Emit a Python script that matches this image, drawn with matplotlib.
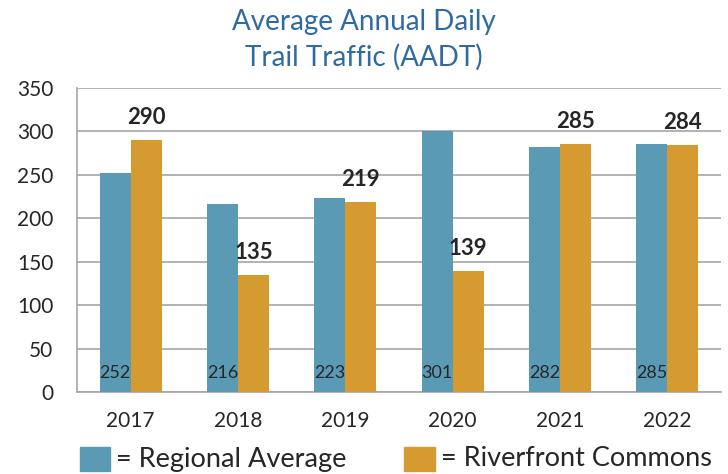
import numpy as np
import matplotlib.pyplot as plt
from matplotlib.patches import Rectangle

# Data
years = ['2017', '2018', '2019', '2020', '2021', '2022']
regional = [252, 216, 223, 301, 282, 285]
riverfront = [290, 135, 219, 139, 285, 284]

blue = '#5B9AB5'
orange = '#D69B30'
title_blue = '#2F6AA3'
text_dark = '#262626'
grid_gray = '#A6A6A6'

plt.rcParams['font.family'] = ['Lato', 'DejaVu Sans']

fig = plt.figure(figsize=(7.28, 4.74), dpi=100)
ax = fig.add_axes([77 / 728, 1 - 392 / 474, 644 / 728, 304 / 474])

x = np.arange(len(years))
w = 0.29
ax.bar(x - w / 2, regional, w, color=blue, zorder=3)
ax.bar(x + w / 2, riverfront, w, color=orange, zorder=3)

# labels: regional inside the bar near bottom, riverfront bold above bar
for xi, v in zip(x, regional):
    ax.text(xi - w / 2, 22, str(v), ha='center', va='center', fontsize=13,
            color=text_dark, zorder=4)
for xi, v in zip(x, riverfront):
    ax.text(xi + w / 2, v + 26, str(v), ha='center', va='center', fontsize=16,
            fontweight='bold', color=text_dark, zorder=4)

ax.set_ylim(0, 350)
ax.set_xlim(-0.5, 5.5)
ax.set_yticks(range(0, 351, 50))
ax.set_xticks(x)
ax.set_xticklabels(years)
ax.tick_params(axis='both', length=0, labelsize=15, colors=text_dark)
ax.tick_params(axis='y', pad=17)
ax.tick_params(axis='x', pad=14)
ax.grid(axis='y', color=grid_gray, linewidth=1.2, zorder=0)
for s in ['top', 'right']:
    ax.spines[s].set_visible(False)
for s in ['bottom', 'left']:
    ax.spines[s].set_color(grid_gray)
    ax.spines[s].set_linewidth(1.2)

fig.text(0.5, 1 - 40 / 474, 'Average Annual Daily\nTrail Traffic (AADT)',
         ha='center', va='center', fontsize=20, color=title_blue, linespacing=1.4)

# legend
fig.add_artist(Rectangle((80 / 728, 1 - 471 / 474), 30 / 728, 24 / 474,
                         color=blue, transform=fig.transFigure))
fig.text(116 / 728, 1 - 459 / 474, '= Regional Average', ha='left', va='center',
         fontsize=19.5, color=text_dark)
fig.add_artist(Rectangle((404 / 728, 1 - 471 / 474), 31 / 728, 24 / 474,
                         color=orange, transform=fig.transFigure))
fig.text(441 / 728, 1 - 459 / 474, '= Riverfront Commons', ha='left', va='center',
         fontsize=19.5, color=text_dark)

fig.savefig('out.png', dpi=100)
